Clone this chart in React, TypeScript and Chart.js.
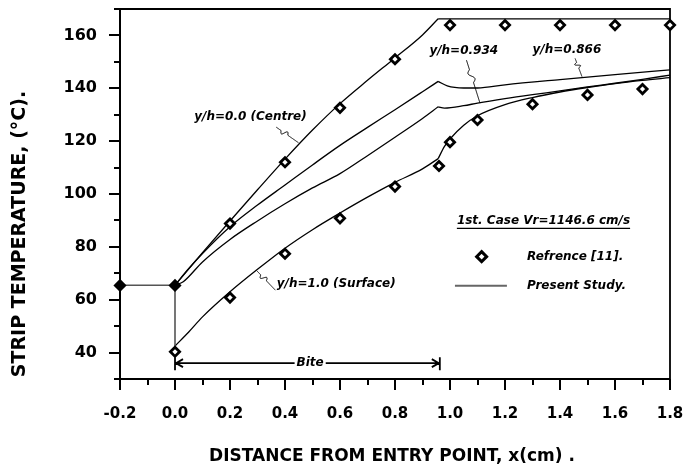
import React, { useEffect, useRef } from 'react';
import { Chart, registerables } from 'chart.js';

Chart.register(...registerables);

const FONT = '"DejaVu Sans", "Liberation Sans", Arial, sans-serif';

// ---------- axis ----------
const xMin = -0.2;
const xMax = 1.8;
const yMin = 30;
const yMax = 170;
const xMajorTicks = [-0.2, 0.0, 0.2, 0.4, 0.6, 0.8, 1.0, 1.2, 1.4, 1.6, 1.8];
const xMinorTicks = [-0.1, 0.1, 0.3, 0.5, 0.7, 0.9, 1.1, 1.3, 1.5, 1.7];
const yMajorTicks = [40, 60, 80, 100, 120, 140, 160];
const yMinorTicks = [30, 50, 70, 90, 110, 130, 150, 170];

// ---------- Reference [11] (diamonds) ----------
const refEntryX = [-0.2, 0.0];
const refEntryY = [65.4, 65.4];
const refSurfaceX = [0.0, 0.2, 0.4, 0.6, 0.8, 0.96, 1.0, 1.1, 1.3, 1.5, 1.7];
const refSurfaceY = [40.3, 60.8, 77.4, 90.8, 102.8, 110.6, 119.6, 128.0, 134.0, 137.5, 139.7];
const refCentreX = [0.2, 0.4, 0.6, 0.8, 1.0, 1.2, 1.4, 1.6, 1.8];
const refCentreY = [88.8, 112.0, 132.6, 151.0, 163.9, 163.9, 163.9, 163.9, 163.9];

// ---------- Present Study (lines) ----------
const entryX = [-0.2, 0.0, 0.0];
const entryY = [65.5, 65.5, 42.5];

const centreX = [0.0, 0.1, 0.2, 0.3, 0.4, 0.5, 0.6, 0.7, 0.8, 0.9, 0.957];
const centreY = [65.5, 77.8, 89.8, 101.6, 113.2, 124.2, 134.2, 143.0, 151.5, 160.2, 166.3];
const centreTailX = [0.957, 1.8];
const centreTailY = [166.3, 166.3];

const h0866X = [0.0, 0.05, 0.1, 0.2, 0.3, 0.4, 0.5, 0.6, 0.7, 0.8, 0.9, 0.957];
const h0866Y = [65.5, 71.8, 77.5, 87.6, 95.8, 103.4, 111.0, 118.4, 125.2, 131.9, 138.7, 142.6];
const h0866TailX = [0.957, 0.99, 1.05, 1.1, 1.2, 1.4, 1.6, 1.8];
const h0866TailY = [142.6, 140.9, 140.1, 140.1, 141.3, 143.3, 145.2, 147.0];

const h0934X = [0.0, 0.03, 0.1, 0.2, 0.3, 0.4, 0.5, 0.6, 0.7, 0.8, 0.9, 0.957];
const h0934Y = [65.5, 66.8, 74.3, 82.8, 89.8, 96.3, 102.3, 107.7, 114.5, 121.5, 128.6, 133.0];
const h0934TailX = [0.957, 0.98, 1.05, 1.1, 1.2, 1.3, 1.4, 1.5, 1.6, 1.7, 1.8];
const h0934TailY = [133.0, 132.5, 133.4, 134.4, 136.1, 137.6, 139.0, 140.5, 141.9, 143.4, 145.0];

const surfaceX = [0.0, 0.05, 0.1, 0.2, 0.3, 0.4, 0.5, 0.6, 0.7, 0.8, 0.9, 0.957];
const surfaceY = [42.5, 47.8, 53.5, 63.0, 71.5, 79.5, 86.5, 92.8, 98.8, 104.4, 109.5, 113.4];
const surfaceTailX = [0.957, 0.98, 1.0, 1.05, 1.1, 1.2, 1.3, 1.4, 1.5, 1.6, 1.7, 1.8];
const surfaceTailY = [113.4, 118.0, 120.8, 126.0, 129.6, 133.8, 136.5, 138.6, 140.3, 141.8, 143.0, 144.0];

// ---------- texts ----------
const xTitle = 'DISTANCE FROM ENTRY POINT, x(cm) .';
const yTitle = 'STRIP TEMPERATURE, (\u00B0C).';
const caseTitle = '1st. Case Vr=1146.6 cm/s';
const legendRef = 'Refrence [11].';
const legendStudy = 'Present Study.';
const labelCentre = 'y/h=0.0 (Centre)';
const labelSurface = 'y/h=1.0 (Surface)';
const label0934 = 'y/h=0.934';
const label0866 = 'y/h=0.866';
const biteLabel = 'Bite';
const biteStart = 0.0;
const biteEnd = 0.963;
const biteLevel = 36;

const pts = (xs: number[], ys: number[]) => xs.map((x, i) => ({ x, y: ys[i] }));

const lineDs = (xs: number[], ys: number[], color = '#000', width = 1.3) => ({
  type: 'line' as const,
  data: pts(xs, ys),
  borderColor: color,
  borderWidth: width,
  pointRadius: 0,
  fill: false,
  cubicInterpolationMode: 'monotone' as const,
  showLine: true,
});

function squiggle(ctx: CanvasRenderingContext2D, x1: number, y1: number, x2: number, y2: number) {
  const dx = x2 - x1;
  const dy = y2 - y1;
  const len = Math.hypot(dx, dy);
  const nx = -dy / len;
  const ny = dx / len;
  ctx.beginPath();
  ctx.moveTo(x1, y1);
  const steps = 60;
  for (let i = 1; i <= steps; i++) {
    const t = i / steps;
    let off = 0;
    if (t > 0.22 && t < 0.52) off = 2.6 * Math.sin(((t - 0.22) / 0.3) * 2 * Math.PI);
    ctx.lineTo(x1 + dx * t + nx * off, y1 + dy * t + ny * off);
  }
  ctx.stroke();
}

function diamond(ctx: CanvasRenderingContext2D, x: number, y: number, r: number) {
  ctx.beginPath();
  ctx.moveTo(x, y - r);
  ctx.lineTo(x + r, y);
  ctx.lineTo(x, y + r);
  ctx.lineTo(x - r, y);
  ctx.closePath();
}

const zeroPad = (s: any) => {
  s.paddingTop = 0;
  s.paddingBottom = 0;
  s.paddingLeft = 0;
  s.paddingRight = 0;
};

const decorPlugin = {
  id: 'decor',
  beforeDatasetsDraw(chart: any) {
    const { ctx, chartArea: a, scales } = chart;
    const xs = scales.x;
    const ys = scales.y;
    ctx.save();
    ctx.strokeStyle = '#000';
    ctx.lineCap = 'butt';
    // frame
    ctx.lineWidth = 2;
    ctx.beginPath();
    ctx.moveTo(a.left, a.top);
    ctx.lineTo(a.left, a.bottom);
    ctx.lineTo(a.right, a.bottom);
    ctx.stroke();
    ctx.lineWidth = 1.8;
    ctx.beginPath();
    ctx.moveTo(a.left, a.top);
    ctx.lineTo(a.right, a.top);
    ctx.lineTo(a.right, a.bottom);
    ctx.stroke();
    // ticks
    ctx.lineWidth = 2;
    ctx.beginPath();
    yMajorTicks.forEach((v) => {
      const p = Math.round(ys.getPixelForValue(v));
      ctx.moveTo(a.left - 11, p);
      ctx.lineTo(a.left, p);
    });
    yMinorTicks.forEach((v) => {
      const p = Math.round(ys.getPixelForValue(v));
      ctx.moveTo(a.left - 6, p);
      ctx.lineTo(a.left, p);
    });
    xMajorTicks.forEach((v) => {
      const p = Math.round(xs.getPixelForValue(v));
      ctx.moveTo(p, a.bottom);
      ctx.lineTo(p, a.bottom + 11);
    });
    xMinorTicks.forEach((v) => {
      const p = Math.round(xs.getPixelForValue(v));
      ctx.moveTo(p, a.bottom);
      ctx.lineTo(p, a.bottom + 6);
    });
    ctx.stroke();

    // axis titles
    ctx.fillStyle = '#000';
    ctx.font = `bold 17px ${FONT}`;
    ctx.textAlign = 'center';
    ctx.textBaseline = 'middle';
    ctx.fillText(xTitle, (a.left + a.right) / 2 - 3, a.bottom + 78);
    ctx.save();
    ctx.font = `bold 19px ${FONT}`;
    ctx.translate(a.left - 100, (a.top + a.bottom) / 2 + 40);
    ctx.rotate(-Math.PI / 2);
    ctx.fillText(yTitle, 0, 0);
    ctx.restore();
    ctx.restore();
  },
  afterDatasetsDraw(chart: any) {
    const { ctx, scales } = chart;
    const X = (v: number) => scales.x.getPixelForValue(v);
    const Y = (v: number) => scales.y.getPixelForValue(v);
    ctx.save();
    ctx.fillStyle = '#000';
    ctx.strokeStyle = '#000';
    ctx.font = `italic bold 12px ${FONT}`;
    ctx.textBaseline = 'middle';
    ctx.textAlign = 'left';

    // curve labels
    ctx.fillText(labelCentre, X(0.07), Y(129.2));
    ctx.lineWidth = 1;
    squiggle(ctx, X(0.368), Y(125.3), X(0.449), Y(119.4));

    ctx.fillText(labelSurface, X(0.37), Y(66.1));
    squiggle(ctx, X(0.297), Y(71.0), X(0.365), Y(63.6));

    ctx.fillText(label0934, X(0.925), Y(154.0));
    squiggle(ctx, X(1.06), Y(150.6), X(1.109), Y(134.4));

    ctx.fillText(label0866, X(1.3), Y(154.6));
    squiggle(ctx, X(1.455), Y(151.3), X(1.48), Y(144.4));

    // case title
    const tx = X(1.025);
    const ty = Y(90.0);
    ctx.fillText(caseTitle, tx, ty);
    const w = ctx.measureText(caseTitle).width;
    ctx.lineWidth = 1.3;
    ctx.beginPath();
    ctx.moveTo(tx, ty + 8);
    ctx.lineTo(tx + w, ty + 8);
    ctx.stroke();

    // legend
    diamond(ctx, X(1.115), Y(76.3), 5);
    ctx.fillStyle = '#fff';
    ctx.fill();
    ctx.lineWidth = 3;
    ctx.strokeStyle = '#000';
    ctx.stroke();
    ctx.fillStyle = '#000';
    ctx.fillText(legendRef, X(1.28), Y(76.3));
    ctx.strokeStyle = '#666';
    ctx.lineWidth = 2;
    ctx.beginPath();
    ctx.moveTo(X(1.018), Y(65.3));
    ctx.lineTo(X(1.207), Y(65.3));
    ctx.stroke();
    ctx.fillText(legendStudy, X(1.28), Y(65.3));

    // bite arrow
    const by = Y(biteLevel);
    const bx1 = X(biteStart);
    const bx2 = X(biteEnd);
    const mid = X((biteStart + biteEnd) / 2 + 0.01);
    ctx.textAlign = 'center';
    const bw = ctx.measureText(biteLabel).width;
    ctx.fillText(biteLabel, mid, by);
    ctx.strokeStyle = '#000';
    ctx.lineWidth = 1.8;
    ctx.beginPath();
    ctx.moveTo(bx1, by);
    ctx.lineTo(mid - bw / 2 - 2, by);
    ctx.moveTo(mid + bw / 2 + 2, by);
    ctx.lineTo(bx2, by);
    // end bars
    ctx.moveTo(bx1, by - 6);
    ctx.lineTo(bx1, by + 7);
    ctx.moveTo(bx2, by - 6);
    ctx.lineTo(bx2, by + 7);
    // arrow heads
    ctx.moveTo(bx1 + 8, by - 4);
    ctx.lineTo(bx1 + 1, by);
    ctx.lineTo(bx1 + 8, by + 4);
    ctx.moveTo(bx2 - 8, by - 4);
    ctx.lineTo(bx2 - 1, by);
    ctx.lineTo(bx2 - 8, by + 4);
    ctx.stroke();
    ctx.restore();
  },
};

export default function App() {
  const ref = useRef<HTMLCanvasElement | null>(null);
  useEffect(() => {
    if (!ref.current) return;
    document.body.style.margin = '0';
    document.body.style.overflow = 'hidden';
    const diamondDs = (xs: number[], ys: number[], bg: string, r: number) => ({
      type: 'line' as const,
      data: pts(xs, ys),
      showLine: false,
      pointStyle: 'rectRot' as const,
      pointRadius: r,
      pointBorderWidth: 2.8,
      pointBackgroundColor: bg,
      pointBorderColor: '#000',
      borderColor: '#000',
      clip: false as any,
    });
    const chart = new Chart(ref.current, {
      type: 'line',
      data: {
        datasets: [
          diamondDs(refEntryX, refEntryY, '#000', 4.6),
          diamondDs(refSurfaceX, refSurfaceY, '#fff', 4.6),
          diamondDs(refCentreX, refCentreY, '#fff', 4.6),
          { ...lineDs(entryX, entryY, '#555', 1.6), cubicInterpolationMode: 'default', tension: 0 } as any,
          lineDs(centreX, centreY),
          lineDs(centreTailX, centreTailY),
          lineDs(h0866X, h0866Y),
          lineDs(h0866TailX, h0866TailY),
          lineDs(h0934X, h0934Y),
          lineDs(h0934TailX, h0934TailY),
          lineDs(surfaceX, surfaceY),
          lineDs(surfaceTailX, surfaceTailY),
        ] as any,
      },
      options: {
        responsive: false,
        animation: false,
        events: [],
        layout: { autoPadding: false, padding: { top: 9, right: 16, left: 0, bottom: 0 } },
        plugins: { legend: { display: false }, tooltip: { enabled: false }, title: { display: false } },
        scales: {
          x: {
            type: 'linear',
            min: xMin,
            max: xMax,
            border: { display: false },
            grid: { display: false, drawTicks: false },
            afterFit: (s: any) => { s.height = 93; zeroPad(s); },
            ticks: {
              stepSize: 0.1,
              autoSkip: false,
              maxRotation: 0,
              padding: 26,
              color: '#000',
              font: { family: FONT, size: 15, weight: 'bold' },
              callback: (v: any) => {
                const n = Math.round(Number(v) * 10);
                return n % 2 === 0 ? (n / 10).toFixed(1) : '';
              },
            },
          },
          y: {
            type: 'linear',
            min: yMin,
            max: yMax,
            border: { display: false },
            grid: { display: false, drawTicks: false },
            afterFit: (s: any) => { s.width = 120; zeroPad(s); },
            ticks: {
              stepSize: 10,
              autoSkip: false,
              padding: 23,
              color: '#000',
              font: { family: FONT, size: 16, weight: 'bold' },
              callback: (v: any) => {
                const n = Math.round(Number(v));
                return n % 20 === 0 && n >= 40 && n <= 160 ? String(n) : '';
              },
            },
          },
        },
      } as any,
      plugins: [decorPlugin],
    });
    return () => chart.destroy();
  }, []);
  return (
    <div style={{ width: 686, height: 472 }}>
      <canvas ref={ref} width={686} height={472} style={{ display: 'block', width: 686, height: 472 }} />
    </div>
  );
}
